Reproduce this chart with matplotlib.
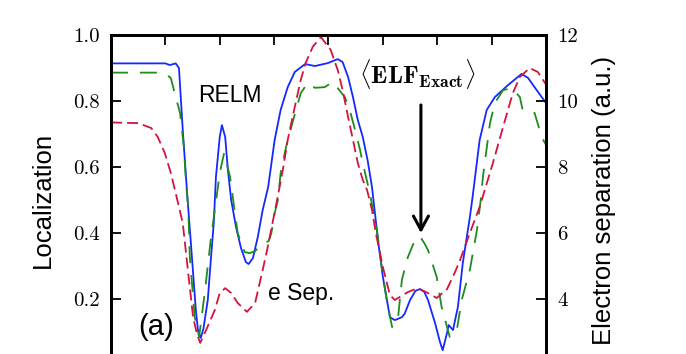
import matplotlib.pyplot as plt

plt.rcParams['mathtext.fontset'] = 'cm'
plt.rcParams['font.family'] = ['Liberation Sans', 'DejaVu Sans']

# RELM localization (solid blue)
x_relm = [0.00, 1.00, 1.08, 1.19, 1.25, 1.32, 1.40, 1.51, 1.56, 1.60, 1.65, 1.70, 1.78, 1.84,
          1.89, 1.93, 2.00, 2.04, 2.10, 2.15, 2.21, 2.30, 2.39, 2.48, 2.53, 2.61, 2.70, 2.79,
          2.89, 3.01, 3.12, 3.25, 3.38, 3.57, 3.75, 3.99, 4.17, 4.26, 4.36, 4.45, 4.54, 4.63,
          4.72, 4.80, 4.91, 5.00, 5.13, 5.22, 5.35, 5.40, 5.50, 5.60, 5.68, 5.76, 5.83, 5.96,
          6.05, 6.10, 6.18, 6.21, 6.29, 6.38, 6.47, 6.60, 6.65, 6.78, 6.91, 7.06, 7.30, 7.55,
          7.67, 7.79, 8.00]
relm = [0.914, 0.914, 0.909, 0.914, 0.900, 0.712, 0.521, 0.279, 0.167, 0.105, 0.082, 0.110, 0.197, 0.327,
        0.430, 0.570, 0.691, 0.727, 0.691, 0.591, 0.500, 0.418, 0.355, 0.312, 0.306, 0.324, 0.388, 0.470,
        0.539, 0.682, 0.773, 0.842, 0.888, 0.912, 0.906, 0.915, 0.927, 0.918, 0.873, 0.812, 0.742, 0.691,
        0.620, 0.539, 0.379, 0.267, 0.145, 0.136, 0.145, 0.155, 0.197, 0.225, 0.230, 0.222, 0.197, 0.127,
        0.070, 0.045, 0.097, 0.121, 0.106, 0.176, 0.309, 0.448, 0.509, 0.682, 0.773, 0.812, 0.848, 0.882,
        0.870, 0.842, 0.794]

# <ELF_Exact> (dashed green)
x_exact = [0.00, 0.90, 1.02, 1.10, 1.19, 1.27, 1.34, 1.38, 1.42, 1.45, 1.54, 1.62, 1.73, 1.84,
           1.91, 2.00, 2.08, 2.19, 2.24, 2.33, 2.46, 2.55, 2.65, 2.79, 2.90, 2.95, 3.01, 3.07,
           3.12, 3.22, 3.35, 3.49, 3.62, 3.75, 3.93, 4.08, 4.30, 4.39, 4.49, 4.58, 4.63, 4.76,
           4.89, 4.98, 5.07, 5.17, 5.28, 5.35, 5.46, 5.58, 5.68, 5.76, 5.83, 5.99, 6.08, 6.23,
           6.36, 6.45, 6.60, 6.73, 6.80, 6.84, 6.97, 7.06, 7.21, 7.37, 7.52, 7.57, 7.70, 7.79,
           7.92, 8.00]
elf_exact = [0.886, 0.886, 0.880, 0.870, 0.812, 0.764, 0.661, 0.552, 0.479, 0.327, 0.145, 0.085, 0.227, 0.388,
             0.470, 0.582, 0.642, 0.570, 0.509, 0.400, 0.342, 0.339, 0.345, 0.370, 0.375, 0.400, 0.460, 0.500,
             0.582, 0.661, 0.742, 0.824, 0.855, 0.840, 0.842, 0.858, 0.812, 0.773, 0.712, 0.652, 0.612, 0.521,
             0.409, 0.297, 0.197, 0.115, 0.145, 0.258, 0.327, 0.375, 0.390, 0.370, 0.348, 0.267, 0.176, 0.085,
             0.106, 0.197, 0.288, 0.409, 0.500, 0.570, 0.733, 0.794, 0.833, 0.839, 0.812, 0.773, 0.767, 0.764,
             0.691, 0.667]

# electron separation in a.u. (dashed red, right axis)
x_sep = [0.00, 0.50, 0.74, 0.86, 0.99, 1.10, 1.19, 1.32, 1.42, 1.51, 1.58, 1.64, 1.75, 1.91,
         2.00, 2.10, 2.21, 2.33, 2.50, 2.65, 2.79, 2.87, 3.03, 3.16, 3.25, 3.38, 3.49, 3.58,
         3.71, 3.86, 4.04, 4.17, 4.26, 4.36, 4.45, 4.54, 4.63, 4.71, 4.80, 4.87, 5.00, 5.13,
         5.22, 5.28, 5.46, 5.64, 5.83, 5.99, 6.18, 6.32, 6.42, 6.60, 6.78, 6.91, 7.02, 7.21,
         7.39, 7.52, 7.70, 7.85, 8.00]
e_sep = [9.35, 9.33, 9.18, 8.91, 8.42, 7.82, 7.21, 6.30, 4.79, 3.45, 2.95, 2.67, 3.06, 3.67,
         4.18, 4.33, 4.18, 3.88, 3.61, 3.88, 4.88, 5.48, 6.79, 7.91, 8.82, 9.82, 10.64, 11.15,
         11.64, 11.94, 11.55, 10.94, 10.33, 9.52, 8.82, 8.12, 7.61, 7.30, 6.70, 6.00, 4.97, 4.12,
         3.97, 4.03, 4.21, 4.33, 4.18, 4.03, 4.30, 4.79, 5.18, 6.00, 6.79, 7.50, 8.10, 9.21,
         10.24, 10.73, 11.00, 10.88, 10.50]

left_ticks = [0.2, 0.4, 0.6, 0.8, 1.0]
right_ticks = [4, 6, 8, 10, 12]

fig = plt.figure(figsize=(6.86, 3.54), dpi=100)
ax = fig.add_axes([0.1618, -0.0311, 0.6341, 0.9322])
ax2 = ax.twinx()

ax.plot(x_relm, relm, color='#1428ff', lw=1.3)
ax.plot(x_exact, elf_exact, color='#1e8c1e', lw=1.3, dashes=(9.4, 6.6))
ax2.plot(x_sep, e_sep, color='#d2143c', lw=1.3, dashes=(6.1, 2.8))

ax.set_xlim(0, 8)
ax.set_ylim(0, 1)
ax2.set_ylim(2, 12)
ax.set_xticks(range(9))
ax.set_yticks(left_ticks)
ax2.set_yticks(right_ticks)

ax.tick_params(axis='x', top=True, bottom=True, direction='in', length=7, width=1.3,
               labelbottom=False)
for a in (ax, ax2):
    a.tick_params(axis='y', direction='in', length=7, width=1.3, labelsize=15, pad=8,
                  labelfontfamily='cmr10')
    for s in a.spines.values():
        s.set_linewidth(2)

ax.set_ylabel('Localization', fontsize=18.5, labelpad=13)
ax2.set_ylabel('Electron separation (a.u.)', fontsize=18.5, labelpad=10)

ax.text(1.61, 0.798, 'RELM', fontsize=16.5, va='baseline')
ax.text(2.89, 0.197, 'e Sep.', fontsize=16.5, va='baseline')
ax.text(0.50, 0.091, '(a)', fontsize=21, va='baseline')
ax.text(4.57, 0.855, r'$\langle\mathbf{ELF}_{\mathbf{Exact}}\rangle$', fontsize=18, va='baseline')
ax.annotate('', xy=(5.70, 0.40), xytext=(5.70, 0.788),
            arrowprops=dict(arrowstyle='->,head_length=0.55,head_width=0.3', lw=2.2,
                            color='k', shrinkA=0, shrinkB=0, mutation_scale=18))

fig.savefig('out.png', dpi=100)
